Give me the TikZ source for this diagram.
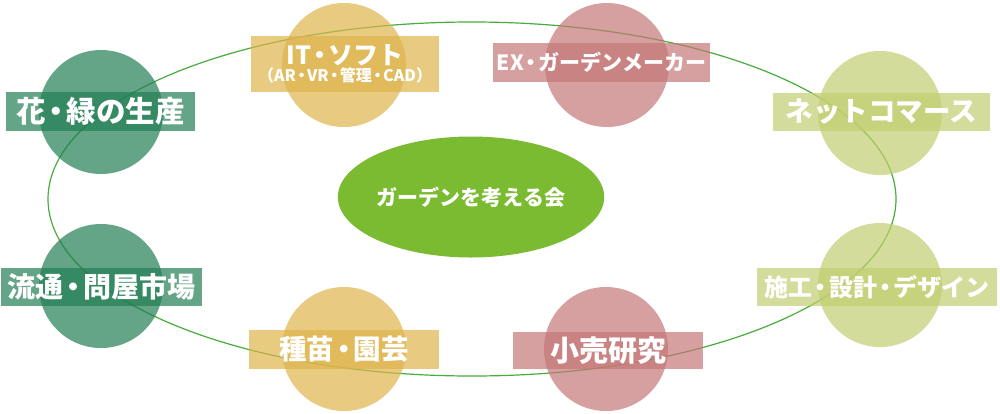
\documentclass[tikz,border=0pt]{standalone}
\usepackage{fontspec}
\newfontfamily\jpfont{Noto Sans CJK JP}
\usepackage{tikz}
\usetikzlibrary{shapes.geometric}

\definecolor{mossgreen}{RGB}{34,126,84}
\definecolor{mustard}{RGB}{222,179,76}
\definecolor{rosered}{RGB}{196,119,119}
\definecolor{leafgreen}{RGB}{194,205,112}
\definecolor{ringgreen}{RGB}{70,172,58}
\definecolor{corefill}{RGB}{123,187,50}

% narrow middle dot
\newcommand{\nk}{\kern-.15em・\kern-.15em}
\newcommand{\fs}[1]{\fontsize{#1}{#1}\selectfont}

\begin{document}
\begin{tikzpicture}[x=1pt,y=-1pt,
	disc/.style={circle, minimum size=124pt, inner sep=0pt, fill opacity=.7},
	tag/.style={rectangle, inner sep=0pt, minimum height=39pt, fill opacity=.7,
		text opacity=1, text=white, font=\jpfont\bfseries}]

\useasboundingbox (0,0) rectangle (1000,413);

\node[ellipse, draw=ringgreen, line width=1.2pt, minimum width=848pt, minimum height=354pt] (ring) at (472,199) {};
\node[ellipse, fill=corefill, inner sep=0pt, minimum width=206pt, minimum height=121pt,
	text=white, font=\jpfont\bfseries\fs{21}] (core) at (471,197) {ガーデンを考える会};

% circles
\node[disc, fill=mossgreen] (growdisc) at (101,112) {};
\node[disc, fill=mustard] (itdisc) at (344,65) {};
\node[disc, fill=rosered] (exdisc) at (607,65) {};
\node[disc, fill=leafgreen] (netdisc) at (880,113) {};
\node[disc, fill=mossgreen] (tradedisc) at (101,286) {};
\node[disc, fill=mustard] (seeddisc) at (344,349) {};
\node[disc, fill=rosered] (shopdisc) at (606,349) {};
\node[disc, fill=leafgreen] (builddisc) at (880,285) {};

% labels
\node[tag, fill=mossgreen, minimum width=189pt] (growtag) at (100.5,111.5) {\fs{29.5}花\nk 緑の生産};
\node[tag, fill=mustard, minimum width=188pt, minimum height=56pt, align=center] (ittag) at (345,64)
	{\fs{25}IT\nk ソフト\\[1pt]\fs{16}（AR\nk VR\nk 管理\nk CAD）};
\node[tag, fill=rosered, minimum width=217pt] (extag) at (601.5,62.5) {\fs{21}EX\nk ガーデンメーカー};
\node[tag, fill=leafgreen, minimum width=217pt, minimum height=38pt] (nettag) at (881.5,112) {\fs{27.5}ネットコマース};
\node[tag, fill=mossgreen, minimum width=201pt, minimum height=38pt] (tradetag) at (101.5,287) {\fs{28}流通\nk 問屋市場};
\node[tag, fill=mustard, minimum width=190pt] (seedtag) at (344,349.5) {\fs{27.5}種苗\nk 園芸};
\node[tag, fill=rosered, minimum width=190pt, minimum height=37pt] (shoptag) at (608,350.5) {\fs{29}小売研究};
\node[tag, fill=leafgreen, minimum width=240pt, minimum height=38pt] (buildtag) at (877,287) {\fs{24}施工\nk 設計\nk デザイン};

\end{tikzpicture}
\end{document}
